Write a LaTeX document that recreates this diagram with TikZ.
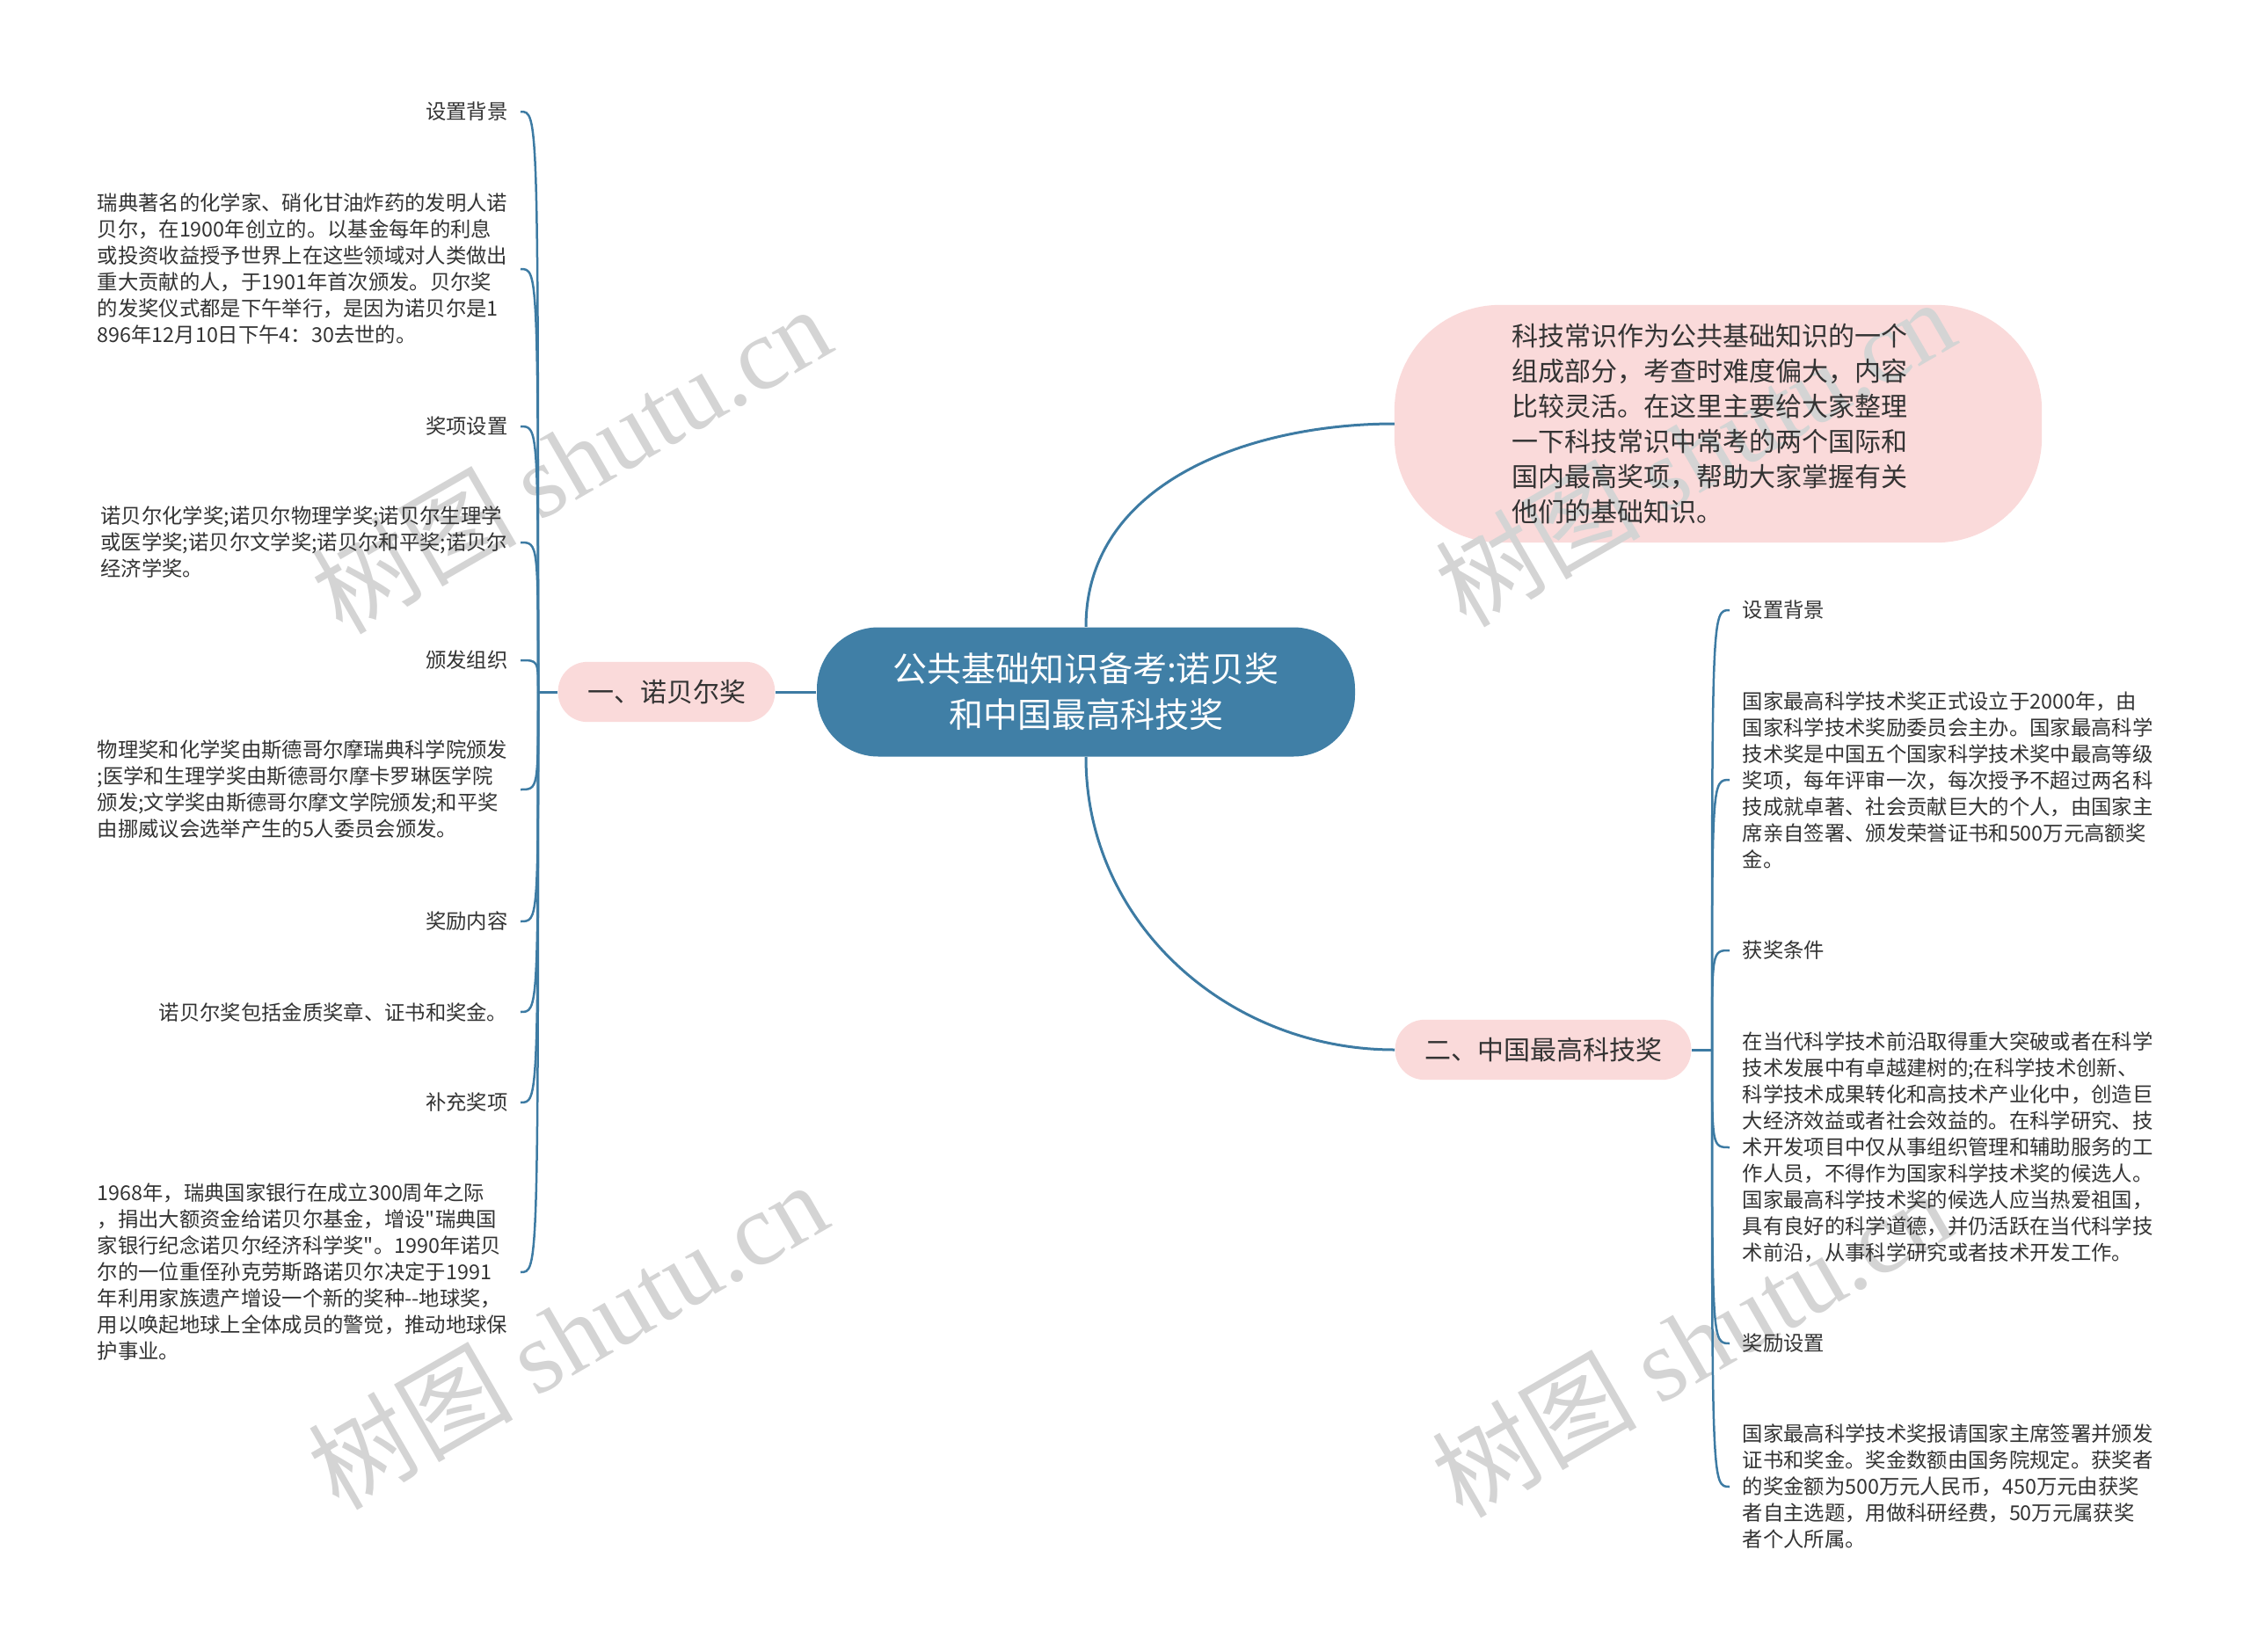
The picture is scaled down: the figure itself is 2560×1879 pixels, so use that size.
\documentclass[tikz,border=0pt]{standalone}
\usepackage{fontspec}
\setmainfont{Noto Sans CJK SC}[Ligatures=TeXOff]
\newfontfamily\wmlatin{Liberation Serif}
\usepackage{xcolor}
\usepackage{tikz}
\usetikzlibrary{calc}
\pgfdeclarelayer{back}
\pgfdeclarelayer{mark}
\pgfsetlayers{back,mark,main}
\definecolor{rt}{HTML}{407FA6}
\definecolor{pk}{HTML}{FADADA}
\definecolor{ln}{HTML}{3D7BA3}
\definecolor{tx}{HTML}{333333}
\definecolor{wm}{HTML}{D4D4D4}
\newcommand{\Lf}{\fontsize{7}{9}\selectfont}
\newcommand{\Nf}{\fontsize{9}{12}\selectfont}
\newcommand{\Rf}{\fontsize{11.7}{15.6}\selectfont}

\begin{document}
\begin{tikzpicture}[x=0.3pt,y=-0.3pt,
  rootbox/.style={fill=rt, text=white, rounded corners=21pt, minimum width=183.6pt,
    minimum height=44.1pt, align=center, font=\Rf},
  branchbox/.style={fill=pk, text=tx, rounded corners=10pt, minimum height=20.5pt,
    inner xsep=10pt, font=\Nf},
  introbox/.style={text=tx, minimum width=220.5pt, minimum height=80.7pt,
    text width=141pt, align=left, font=\Nf},
  leaf/.style={text=tx, inner xsep=4.2pt, inner ysep=0pt, align=left, font=\Lf},
  link/.style={draw=ln, line width=0.9pt},
  leaflink/.style={draw=ln, line width=0.75pt},
  wmark/.style={text=wm, rotate=30, font=\fontsize{35}{35}\selectfont}]
  \useasboundingbox (0,0) rectangle (2560,1879);

  % centre and main branches
  \node[rootbox] (root) at (1235,787) {公共基础知识备考:诺贝奖\\和中国最高科技奖};
  \node[introbox] (intro) at (1954,482) {科技常识作为公共基础知识的一个\\
    组成部分，考查时难度偏大，内容\\比较灵活。在这里主要给大家整理\\
    一下科技常识中常考的两个国际和\\国内最高奖项，帮助大家掌握有关\\他们的基础知识。};
  \begin{pgfonlayer}{back}
    \fill[pk, rounded corners=36pt] (intro.north west) rectangle (intro.south east);
  \end{pgfonlayer}
  \node[branchbox] (nb) at (758,787) {一、诺贝尔奖};
  \node[branchbox] (cn) at (1755,1194) {二、中国最高科技奖};

  \draw[link] (root.west) -- (nb.east);
  \draw[link] (root.north) to[out=90,in=180] (intro.west);
  \draw[link] (root.south) to[out=-90,in=180] (cn.west);

  % left leaves
  \node[leaf, anchor=east] (l1) at (592,127) {设置背景};
  \node[leaf, anchor=east] (l2) at (592,306) {瑞典著名的化学家、硝化甘油炸药的发明人诺\\
    贝尔，在1900年创立的。以基金每年的利息\\或投资收益授予世界上在这些领域对人类做出\\
    重大贡献的人，于1901年首次颁发。贝尔奖\\的发奖仪式都是下午举行，是因为诺贝尔是1\\
    896年12月10日下午4：30去世的。};
  \node[leaf, anchor=east] (l3) at (592,485) {奖项设置};
  \node[leaf, anchor=east] (l4) at (592,617) {诺贝尔化学奖;诺贝尔物理学奖;诺贝尔生理学\\
    或医学奖;诺贝尔文学奖;诺贝尔和平奖;诺贝尔\\经济学奖。};
  \node[leaf, anchor=east] (l5) at (592,751) {颁发组织};
  \node[leaf, anchor=east] (l6) at (592,898) {物理奖和化学奖由斯德哥尔摩瑞典科学院颁发\\
    ;医学和生理学奖由斯德哥尔摩卡罗琳医学院\\颁发;文学奖由斯德哥尔摩文学院颁发;和平奖\\
    由挪威议会选举产生的5人委员会颁发。};
  \node[leaf, anchor=east] (l7) at (592,1048) {奖励内容};
  \node[leaf, anchor=east] (l8) at (592,1151) {诺贝尔奖包括金质奖章、证书和奖金。};
  \node[leaf, anchor=east] (l9) at (592,1254) {补充奖项};
  \node[leaf, anchor=east] (l10) at (592,1447) {1968年，瑞典国家银行在成立300周年之际\\
    ，捐出大额资金给诺贝尔基金，增设"瑞典国\\家银行纪念诺贝尔经济科学奖"。1990年诺贝\\
    尔的一位重侄孙克劳斯路诺贝尔决定于1991\\年利用家族遗产增设一个新的奖种-{}-地球奖，\\
    用以唤起地球上全体成员的警觉，推动地球保\\护事业。};

  % right leaves
  \node[leaf, anchor=west] (r1) at (1967,694) {设置背景};
  \node[leaf, anchor=west] (r2) at (1967,887) {国家最高科学技术奖正式设立于2000年，由\\
    国家科学技术奖励委员会主办。国家最高科学\\技术奖是中国五个国家科学技术奖中最高等级\\
    奖项，每年评审一次，每次授予不超过两名科\\技成就卓著、社会贡献巨大的个人，由国家主\\
    席亲自签署、颁发荣誉证书和500万元高额奖\\金。};
  \node[leaf, anchor=west] (r3) at (1967,1081) {获奖条件};
  \node[leaf, anchor=west] (r4) at (1967,1305) {在当代科学技术前沿取得重大突破或者在科学\\
    技术发展中有卓越建树的;在科学技术创新、\\科学技术成果转化和高技术产业化中，创造巨\\
    大经济效益或者社会效益的。在科学研究、技\\术开发项目中仅从事组织管理和辅助服务的工\\
    作人员，不得作为国家科学技术奖的候选人。\\国家最高科学技术奖的候选人应当热爱祖国，\\
    具有良好的科学道德，并仍活跃在当代科学技\\术前沿，从事科学研究或者技术开发工作。};
  \node[leaf, anchor=west] (r5) at (1967,1528) {奖励设置};
  \node[leaf, anchor=west] (r6) at (1967,1691) {国家最高科学技术奖报请国家主席签署并颁发\\
    证书和奖金。奖金数额由国务院规定。获奖者\\的奖金额为500万元人民币，450万元由获奖\\
    者自主选题，用做科研经费，50万元属获奖\\者个人所属。};

  % spines
  \coordinate (nbj) at (612,787);
  \coordinate (cnj) at (1947,1194);
  \draw[link] (nb.west) -- (nbj);
  \draw[link] (cn.east) -- (cnj);
  \foreach \i in {1,...,10}
    \draw[leaflink] (nbj) .. controls (nbj |- l\i.east) .. (l\i.east);
  \foreach \i in {1,...,6}
    \draw[leaflink] (cnj) .. controls (cnj |- r\i.west) .. (r\i.west);

  % watermarks, under the texts
  \begin{pgfonlayer}{mark}
    \node[wmark] (wm1) at (649,522) {树图 {\wmlatin shutu.cn}};
    \node[wmark] (wm2) at (1927,514) {树图 {\wmlatin shutu.cn}};
    \node[wmark] (wm3) at (645,1518) {树图 {\wmlatin shutu.cn}};
    \node[wmark] (wm4) at (1923,1527) {树图 {\wmlatin shutu.cn}};
  \end{pgfonlayer}
\end{tikzpicture}
\end{document}
